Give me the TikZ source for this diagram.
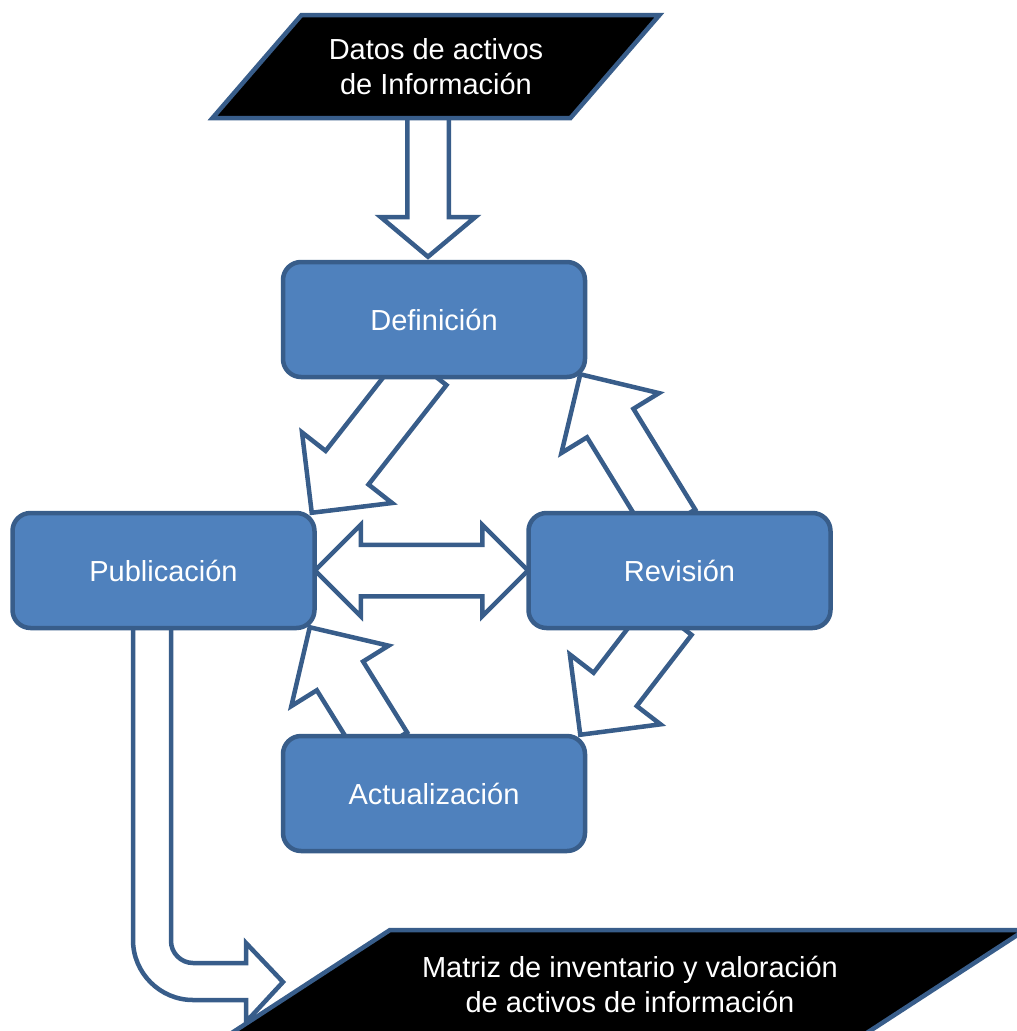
\documentclass[tikz,border=0pt]{standalone}
\usepackage{fontspec}
\setmainfont{Liberation Sans}
\usetikzlibrary{positioning, shapes.arrows, calc, backgrounds}
\definecolor{stagefill}{HTML}{4F81BD}
\definecolor{stageedge}{HTML}{385D8A}
\tikzset{
    %Hollow block arrow look
    fat/.style={draw=stageedge, fill=white, line width=4.5pt, inner xsep=0pt, outer sep=0pt},
}

\begin{document}
\begin{tikzpicture}[x=1pt, y=-1pt,
    stage/.style = {draw=stageedge, fill=stagefill, line width=4.5pt, rounded corners=18pt,
                    minimum width=302pt, minimum height=115pt, text=white,
                    font=\fontsize{29}{35}\selectfont},
    io/.style = {draw=stageedge, fill=black, line width=4.5pt},
    iotext/.style = {text=white, align=center, font=\fontsize{29}{35}\selectfont},
    diag/.style = {fat, single arrow, inner ysep=25pt, single arrow head extend=30pt,
                   sloped, allow upside down, anchor=tail, pos=0},
  ]
  \useasboundingbox (0,0) rectangle (1017,1031);
  \clip (0,0) rectangle (1017,1031);

  % input and output parallelograms
  \coordinate (datos-c) at (436,66.5);
  \coordinate (matriz-c) at (628,984);
  \draw[io] ([shift={(-134.5,-51.5)}]datos-c) -- ++(358,0) -- ++(-89,103) -- ++(-358,0) -- cycle;
  \node[iotext] (datos) at (datos-c) {Datos de activos\\de Información};
  \draw[io] ([shift={(-238,-54)}]matriz-c) -- ++(635,0) -- ++(-166,108) -- ++(-635,0) -- cycle;
  \node[iotext] (matriz) at ([xshift=2pt]matriz-c)
        {Matriz de inventario y valoración\\de activos de información};

  \node[stage] (def) at (434,319.5) {Definición};
  \node[stage] (pub) at (163.5,570.5) {Publicación};
  \node[stage] (rev) at (679.5,570.5) {Revisión};
  \node[stage] (act) at (434,793.5) {Actualización};

  % tails hide inside the boxes, tips touch the corners
  \coordinate (in-tail)  at ([shift={(-8,40)}]datos-c);
  \coordinate (in-tip)   at ([shift={(-6,-3)}]def.north);
  \coordinate (d2p-tail) at ([shift={(-9,-11)}]def.south);
  \coordinate (d2p-tip)  at ([shift={(-5,2)}]pub.north east);
  \coordinate (r2d-tail) at ([shift={(-7.5,13)}]rev.north);
  \coordinate (r2d-tip)  at ([shift={(-7,-5)}]def.south east);
  \coordinate (r2a-tail) at ([shift={(-9.5,-12)}]rev.south);
  \coordinate (r2a-tip)  at ([shift={(-7,1)}]act.north east);
  \coordinate (a2p-tail) at ([shift={(-50,13)}]act.north);
  \coordinate (a2p-tip)  at ([shift={(-7,-3)}]pub.south east);

  \begin{scope}[on background layer]
    \path let \p1=($(in-tip)-(in-tail)$), \n1={veclen(\x1,\y1)} in
      (in-tail) -- node[fat, single arrow, inner ysep=18.5pt, single arrow head extend=26.5pt,
                        single arrow tip angle=100, minimum height=\n1,
                        sloped, allow upside down, anchor=tail, pos=0] (in-arrow) {} (in-tip);
    \foreach \s in {d2p, r2d, r2a, a2p}
      \path let \p1=($(\s-tip)-(\s-tail)$), \n1={veclen(\x1,\y1)} in
        (\s-tail) -- node[diag, minimum height=\n1] (\s-arrow) {} (\s-tip);
    \path (pub.east) -- node[fat, double arrow, minimum height=213pt, inner ysep=23.5pt,
                             double arrow head extend=20pt] (pub-rev) {} (rev.west);
    % bent arrow from Publicacion down to the output
    \draw[fat] ([shift={(-30.5,-13)}]pub.south) coordinate (out-start)
      -- (133,940) .. controls (133,973) and (160,1000) .. (193,1000)
      -- (246,1000) -- (246,1022) -- (283,982) -- (246,943) -- (246,963)
      -- (193,963) .. controls (181,963) and (171,953) .. (171,941)
      -- ([shift={(7.5,-13)}]pub.south) -- cycle;
  \end{scope}
\end{tikzpicture}
\end{document}
